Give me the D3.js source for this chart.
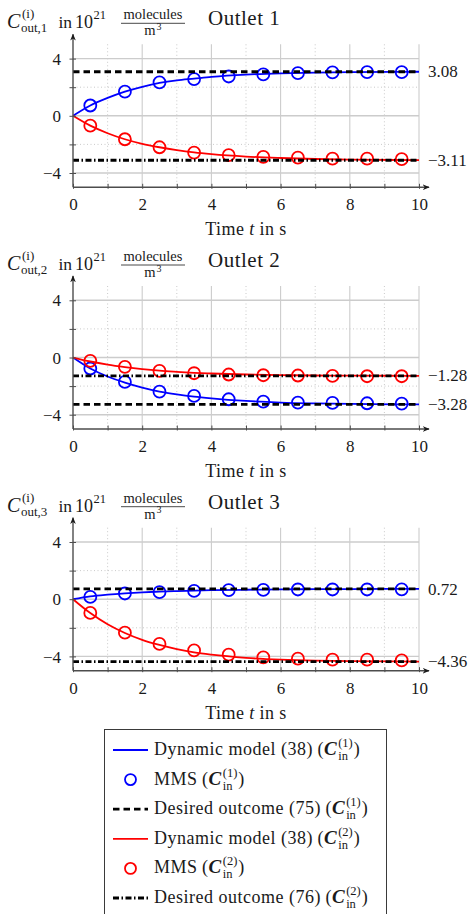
<!DOCTYPE html>
<html>
<head>
<meta charset="utf-8">
<script src="https://cdn.jsdelivr.net/npm/d3@7"></script>
<style>
body { margin: 0; background: #fff; }
text { font-family: "Liberation Serif", "DejaVu Serif", serif; fill: #1a1a1a; white-space: pre; }
</style>
</head>
<body>
<script>
// DONNEES

var outlets = ["Outlet 1", "Outlet 2", "Outlet 3"];
var outletIdx = ["1", "2", "3"];

var mmsT = [0.5, 1.5, 2.5, 3.5, 4.5, 5.5, 6.5, 7.5, 8.5, 9.5];
// MMS, C_in^(1) (bleu)
var mmsBlue1 = [0.72, 1.69, 2.34, 2.57, 2.75, 2.89, 2.98, 3.03, 3.05, 3.05];
var mmsBlue2 = [-0.77, -1.71, -2.39, -2.69, -2.92, -3.09, -3.16, -3.18, -3.2, -3.22];
var mmsBlue3 = [0.16, 0.4, 0.49, 0.58, 0.63, 0.65, 0.68, 0.68, 0.68, 0.69];
// MMS, C_in^(2) (rouge)
var mmsRed1 = [-0.69, -1.64, -2.2, -2.57, -2.75, -2.87, -2.93, -3.0, -3.0, -3.03];
var mmsRed2 = [-0.23, -0.65, -0.94, -1.1, -1.19, -1.24, -1.26, -1.29, -1.31, -1.31];
var mmsRed3 = [-0.96, -2.34, -3.13, -3.58, -3.88, -4.07, -4.16, -4.23, -4.23, -4.28];

var modelT = [0, 0.5, 1, 1.5, 2, 2.5, 3, 3.5, 4, 5, 6, 7, 8, 10];
// modele dynamique (38)
var modelBlue1 = [0, 0.72, 1.25, 1.69, 2.03, 2.3, 2.48, 2.6, 2.72, 2.88, 2.97, 3.02, 3.05, 3.08];
var modelBlue2 = [0, -0.77, -1.33, -1.75, -2.1, -2.38, -2.58, -2.74, -2.86, -3.04, -3.15, -3.21, -3.25, -3.28];
var modelBlue3 = [0, 0.2, 0.32, 0.41, 0.48, 0.53, 0.57, 0.6, 0.63, 0.66, 0.69, 0.7, 0.71, 0.72];
var modelRed1 = [0, -0.69, -1.22, -1.64, -1.96, -2.2, -2.4, -2.56, -2.68, -2.85, -2.95, -3.02, -3.06, -3.1];
var modelRed2 = [0, -0.28, -0.5, -0.67, -0.81, -0.92, -1.0, -1.07, -1.12, -1.19, -1.23, -1.26, -1.27, -1.28];
var modelRed3 = [0, -0.97, -1.75, -2.36, -2.84, -3.2, -3.49, -3.72, -3.88, -4.1, -4.23, -4.3, -4.33, -4.36];

// resultats souhaites (75) et (76)
var targetBlue = [3.08, -3.28, 0.72];
var targetRed = [-3.11, -1.28, -4.36];

var xTicks = [0, 1, 2, 3, 4, 5, 6, 7, 8, 9, 10];
var xLabels = [0, 2, 4, 6, 8, 10];
var yTicks = [-4, -2, 0, 2, 4];
var yLabels = [-4, 0, 4];

var mmsBlue = [mmsBlue1, mmsBlue2, mmsBlue3];
var mmsRed = [mmsRed1, mmsRed2, mmsRed3];
var modelBlue = [modelBlue1, modelBlue2, modelBlue3];
var modelRed = [modelRed1, modelRed2, modelRed3];

var BLUE = "#0000ff", RED = "#ff0000", AXC = "#4d4d4d", GRID = "#cccccc";
var DASH = "6.5,4", DASHDOT = "6,2.5,1.5,2.5";

var W = 475, H = 914;
var x0 = 73, x1 = 419, ph = 143, step = 241.7, top0 = 44.3;

var svg = d3.select("body").append("svg")
    .attr("width", W).attr("height", H);

var defs = svg.append("defs");
defs.append("marker").attr("id", "arr")
    .attr("viewBox", "0 0 10 10").attr("refX", 9).attr("refY", 5)
    .attr("markerWidth", 7).attr("markerHeight", 7)
    .attr("markerUnits", "userSpaceOnUse")
    .attr("orient", "auto")
  .append("path").attr("d", "M0,1 L10,5 L0,9 L3,5 Z").attr("fill", "#1a1a1a");

var absc = d3.scaleLinear().domain([0, 10]).range([x0, x1]);

outlets.forEach(function(name, i) {
  var top = top0 + i * step;
  var ordo = d3.scaleLinear().domain([-5, 5]).range([top + ph, top]);
  var g = svg.append("g");

  // GRILLE
  [1, 3, 5, 7, 9].forEach(function(v) {
    g.append("line").attr("x1", absc(v)).attr("x2", absc(v))
      .attr("y1", top).attr("y2", top + ph)
      .attr("stroke", "#bdbdbd").attr("stroke-width", 0.8).attr("stroke-dasharray", "1,2.5");
  });
  [-2, 2].forEach(function(v) {
    g.append("line").attr("x1", x0).attr("x2", x1)
      .attr("y1", ordo(v)).attr("y2", ordo(v))
      .attr("stroke", "#bdbdbd").attr("stroke-width", 0.8).attr("stroke-dasharray", "1,2.5");
  });
  [2, 4, 6, 8, 10].forEach(function(v) {
    g.append("line").attr("x1", absc(v)).attr("x2", absc(v))
      .attr("y1", top).attr("y2", top + ph)
      .attr("stroke", GRID).attr("stroke-width", 1.1);
  });
  yLabels.forEach(function(v) {
    g.append("line").attr("x1", x0).attr("x2", x1)
      .attr("y1", ordo(v)).attr("y2", ordo(v))
      .attr("stroke", GRID).attr("stroke-width", 1.4);
  });

  // COURBES
  var ligne = d3.line()
      .x(function(d) { return absc(d[0]); })
      .y(function(d) { return ordo(d[1]); })
      .curve(d3.curveMonotoneX);

  var series = [
    {model: modelBlue[i], mms: mmsBlue[i], target: targetBlue[i], col: BLUE, dash: DASH},
    {model: modelRed[i], mms: mmsRed[i], target: targetRed[i], col: RED, dash: DASHDOT}
  ];
  series.forEach(function(s) {
    g.append("path")
      .datum(modelT.map(function(t, k) { return [t, s.model[k]]; }))
      .attr("d", ligne)
      .attr("fill", "none").attr("stroke", s.col).attr("stroke-width", 1.8);
    g.selectAll(null)
      .data(mmsT.map(function(t, k) { return [t, s.mms[k]]; }))
      .enter().append("circle")
      .attr("cx", function(d) { return absc(d[0]); })
      .attr("cy", function(d) { return ordo(d[1]); })
      .attr("r", 6)
      .attr("fill", "none").attr("stroke", s.col).attr("stroke-width", 1.8);
    g.append("line")
      .attr("x1", absc(0)).attr("x2", absc(10))
      .attr("y1", ordo(s.target)).attr("y2", ordo(s.target))
      .attr("stroke", "#000").attr("stroke-width", 2.8)
      .attr("stroke-dasharray", s.dash);
    g.append("text")
      .attr("x", x1 + 9).attr("y", ordo(s.target)).attr("dy", "0.33em")
      .style("font-size", "17px")
      .text(d3.format(".2f")(s.target).replace("-", "\u2212"));
  });

  // AXES
  var axX = g.append("g").attr("transform", "translate(0," + (top + ph) + ")")
    .call(d3.axisBottom(absc).tickValues(xTicks).tickSizeOuter(0)
      .tickFormat(function(d) { return xLabels.indexOf(d) >= 0 ? d : ""; }));
  axX.select(".domain").remove();
  axX.selectAll(".tick line").attr("y1", -3.5).attr("y2", 1.5).attr("stroke", AXC);
  axX.selectAll(".tick text").attr("y", 23).attr("dy", 0)
    .style("font-family", "\"Liberation Serif\", serif").style("font-size", "17px").attr("fill", "#1a1a1a");

  var axY = g.append("g").attr("transform", "translate(" + x0 + ",0)")
    .call(d3.axisLeft(ordo).tickValues(yTicks).tickSizeOuter(0)
      .tickFormat(function(d) { return yLabels.indexOf(d) >= 0 ? d3.format("")(d) : ""; }));
  axY.select(".domain").remove();
  axY.selectAll(".tick line").attr("x1", -3.5).attr("x2", 3).attr("stroke", AXC);
  axY.selectAll(".tick text").attr("x", -12).attr("dy", "0.33em")
    .style("font-family", "\"Liberation Serif\", serif").style("font-size", "17px").attr("fill", "#1a1a1a");

  g.append("line").attr("x1", x0).attr("x2", x1 + 10)
    .attr("y1", top + ph).attr("y2", top + ph)
    .attr("stroke", AXC).attr("stroke-width", 1.4).attr("marker-end", "url(#arr)");
  g.append("line").attr("x1", x0).attr("x2", x0)
    .attr("y1", top + ph).attr("y2", top - 10)
    .attr("stroke", AXC).attr("stroke-width", 1.4).attr("marker-end", "url(#arr)");

  // TITRES
  g.append("text").attr("x", (x0 + x1) / 2).attr("y", top + ph + 48)
    .attr("text-anchor", "middle").style("font-size", "18px").style("letter-spacing", "0.4px")
    .html("Time <tspan font-style=\"italic\">t</tspan> in s");

  var hy = top - 16;
  g.append("text").attr("x", 7).attr("y", hy).style("font-size", "20px").style("font-style", "italic").text("C");
  g.append("text").attr("x", 22).attr("y", hy - 10).style("font-size", "13px").text("(i)");
  g.append("text").attr("x", 21).attr("y", hy + 4).style("font-size", "13px").text("out," + outletIdx[i]);
  g.append("text").attr("x", 58.5).attr("y", hy).style("font-size", "17.5px").text("in");
  g.append("text").attr("x", 93).attr("y", hy).attr("text-anchor", "end").style("font-size", "18px").text("10");
  g.append("text").attr("x", 93.5).attr("y", hy - 9).style("font-size", "12.5px").text("21");
  g.append("text").attr("x", 153).attr("y", hy - 9).attr("text-anchor", "middle").style("font-size", "14.5px").text("molecules");
  g.append("line").attr("x1", 121).attr("x2", 185).attr("y1", hy - 5).attr("y2", hy - 5)
    .attr("stroke", "#1a1a1a").attr("stroke-width", 0.8);
  g.append("text").attr("x", 150).attr("y", hy + 7).attr("text-anchor", "middle").style("font-size", "14.5px").text("m");
  g.append("text").attr("x", 156.5).attr("y", hy + 1.5).style("font-size", "10px").text("3");
  g.append("text").attr("x", 208).attr("y", hy - 3).style("font-size", "21px").style("letter-spacing", "0.5px").text(name);
});

// LEGENDE

var legendItems = [
  {label: "Dynamic model (38)", idx: "(1)", kind: "line", col: BLUE},
  {label: "MMS", idx: "(1)", kind: "circle", col: BLUE},
  {label: "Desired outcome (75)", idx: "(1)", kind: "dash", col: "#000"},
  {label: "Dynamic model (38)", idx: "(2)", kind: "line", col: RED},
  {label: "MMS", idx: "(2)", kind: "circle", col: RED},
  {label: "Desired outcome (76)", idx: "(2)", kind: "dashdot", col: "#000"}
];

var leg = svg.append("g");
leg.append("rect").attr("x", 104.5).attr("y", 729.5).attr("width", 282).attr("height", 220)
  .attr("fill", "#fff").attr("stroke", "#3a3a3a").attr("stroke-width", 1);

function mathText(g, x, y, parts) {
  var cx = x;
  parts.forEach(function(p) {
    if (p.sup !== undefined) {
      var a = g.append("text").attr("x", cx).attr("y", y - 8).style("font-size", "12.5px").text(p.sup);
      var b = g.append("text").attr("x", cx).attr("y", y + 5).style("font-size", "12.5px").text(p.sub);
      cx += Math.max(a.node().getComputedTextLength(), b.node().getComputedTextLength());
    } else if (p.gap !== undefined) {
      cx += p.gap;
    } else {
      var t = g.append("text").attr("x", cx).attr("y", y)
        .style("font-size", "18px").style("letter-spacing", "0.5px").text(p.t);
      if (p.b) t.style("font-weight", "bold").style("font-style", "italic").style("font-size", "19px");
      cx += t.node().getComputedTextLength();
    }
  });
}

legendItems.forEach(function(d, k) {
  var cy = 750 + k * 29.6;
  var row = leg.append("g");
  if (d.kind === "circle") {
    row.append("circle").attr("cx", 130.5).attr("cy", cy).attr("r", 5.5)
      .attr("fill", "none").attr("stroke", d.col).attr("stroke-width", 1.8);
  } else {
    row.append("line").attr("x1", 113).attr("x2", 148).attr("y1", cy).attr("y2", cy)
      .attr("stroke", d.col)
      .attr("stroke-width", d.kind === "line" ? 1.8 : 2.8)
      .attr("stroke-dasharray", d.kind === "dash" ? DASH : (d.kind === "dashdot" ? DASHDOT : null));
  }
  mathText(row, 154, cy + 5, [
    {t: d.label}, {gap: 4.5}, {t: "("}, {t: "C", b: true}, {gap: 1},
    {sup: d.idx, sub: "in"}, {gap: 1}, {t: ")"}
  ]);
});
</script>
</body>
</html>
